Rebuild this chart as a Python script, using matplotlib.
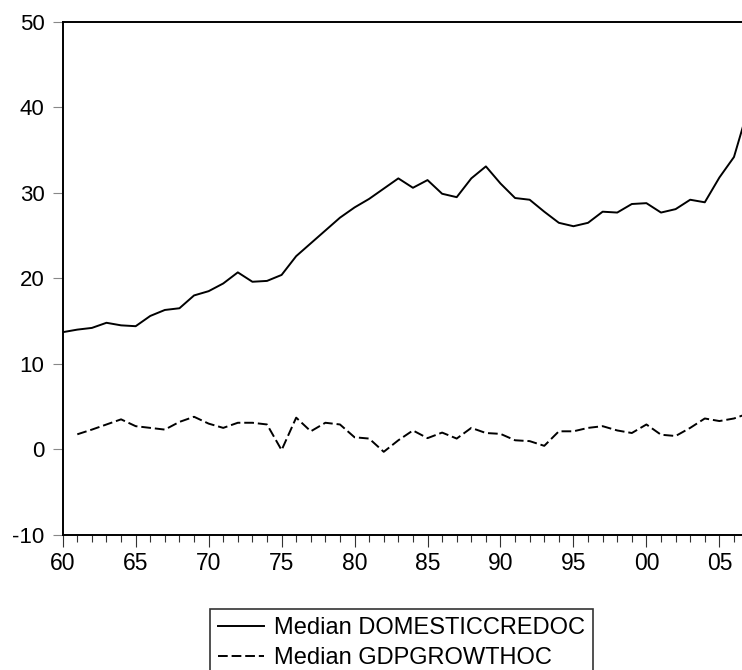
import matplotlib
matplotlib.use('Agg')
import matplotlib.pyplot as plt
from matplotlib.ticker import MultipleLocator, FuncFormatter

# median series, 1960-2007
years = list(range(1960, 2008))
domestic_credit = [13.7, 14.0, 14.2, 14.8, 14.5, 14.4, 15.6, 16.3, 16.5, 18.0,
                   18.5, 19.4, 20.7, 19.6, 19.7, 20.4, 22.6, 24.1, 25.6, 27.1,
                   28.3, 29.3, 30.5, 31.7, 30.6, 31.5, 29.9, 29.5, 31.7, 33.1,
                   31.1, 29.4, 29.2, 27.8, 26.5, 26.1, 26.5, 27.8, 27.7, 28.7,
                   28.8, 27.7, 28.1, 29.2, 28.9, 31.8, 34.2, 40.0]
gdp_years = list(range(1961, 2008))
gdp_growth = [1.75, 2.3, 2.9, 3.5, 2.7, 2.5, 2.3, 3.2, 3.8, 3.0,
              2.5, 3.1, 3.1, 2.9, -0.1, 3.7, 2.1, 3.1, 2.9, 1.4,
              1.25, -0.3, 1.05, 2.2, 1.3, 1.95, 1.25, 2.5, 1.9, 1.8,
              1.05, 0.95, 0.4, 2.1, 2.1, 2.5, 2.7, 2.2, 1.9, 2.9,
              1.7, 1.55, 2.5, 3.6, 3.3, 3.6, 4.2]

plt.rcParams['font.family'] = ['Liberation Sans', 'DejaVu Sans']
plt.rcParams['axes.unicode_minus'] = False

W, H = 742, 670
fig = plt.figure(figsize=(W / 100, H / 100), dpi=100)
left, right, top, bottom = 62.7, 742, 22, 534.7
ax = fig.add_axes([left / W, 1 - bottom / H, (right - left) / W, (bottom - top) / H])

ax.plot(years, domestic_credit, color='black', lw=1.4, label='Median DOMESTICCREDOC')
ax.plot(gdp_years, gdp_growth, color='black', lw=1.4, dashes=(5, 2),
        label='Median GDPGROWTHOC')

ax.set_xlim(1960, 2006.55)
ax.set_ylim(-10, 50)
ax.xaxis.set_major_locator(MultipleLocator(5))
ax.xaxis.set_minor_locator(MultipleLocator(1))
ax.xaxis.set_major_formatter(FuncFormatter(lambda v, p: '%02d' % (int(round(v)) % 100)))
ax.yaxis.set_major_locator(MultipleLocator(10))

for s in ax.spines.values():
    s.set_linewidth(1.4)
ax.spines['right'].set_visible(False)

ax.tick_params(axis='x', which='major', length=8.3, width=0.8, labelsize=16.5, pad=4.3,
               color='#333333')
ax.tick_params(axis='x', which='minor', length=4.7, width=0.8, color='#333333')
ax.tick_params(axis='y', which='major', length=7.2, width=0.8, labelsize=16, pad=6,
               color='#888888')

# legend box top edge at y = 609 px, bottom runs off the image
leg = ax.legend(loc='upper left', bbox_to_anchor=(210 / W, 1 - 609 / H),
                bbox_transform=fig.transFigure, ncol=1,
                frameon=True, fancybox=False, handlelength=1.95, handletextpad=0.4,
                borderpad=0.35, labelspacing=0.33, borderaxespad=0,
                prop={'family': 'Liberation Sans', 'size': 17})
leg.get_frame().set_edgecolor('black')
leg.get_frame().set_linewidth(1.2)

fig.savefig('out.png', dpi=100)
